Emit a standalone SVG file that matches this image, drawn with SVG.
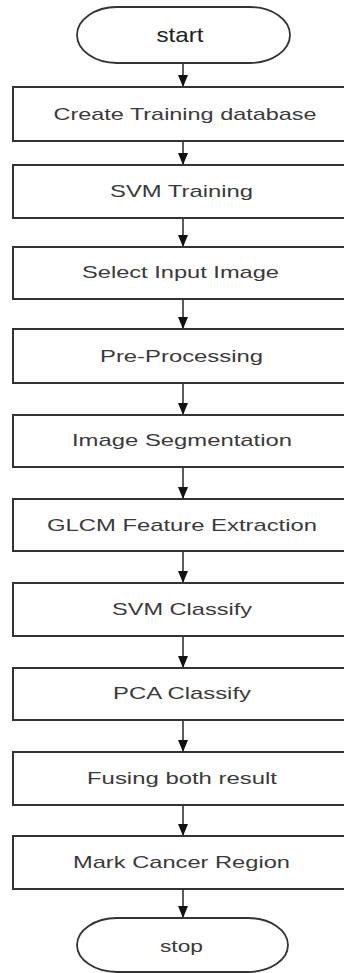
<svg xmlns="http://www.w3.org/2000/svg" width="344" height="973" viewBox="0 0 344 973">
<defs>
<marker id="ah" viewBox="0 0 12 10" refX="12" refY="5" markerWidth="12" markerHeight="10" markerUnits="userSpaceOnUse" orient="auto">
<path d="M0,0 L12,5 L0,10 Z" fill="#111"/>
</marker>
<style>
.box{fill:#fff;stroke:#333;stroke-width:2}
.term{fill:#fff;stroke:#333;stroke-width:1.8}
.lbl{font-family:"Liberation Sans",Arial,sans-serif;font-size:17px;fill:#3a3a3a;text-anchor:middle}
.tl{font-family:"Liberation Sans",Arial,sans-serif;font-size:21px;fill:#222;text-anchor:middle}
.con{stroke:#333;stroke-width:1.6;fill:none;marker-end:url(#ah)}
</style>
</defs>
<rect width="344" height="973" fill="#fff"/>
<g id="connectors">
<line class="con" x1="183" y1="63" x2="183" y2="87"/>
<line class="con" x1="183" y1="141" x2="183" y2="165"/>
<line class="con" x1="183" y1="218" x2="183" y2="247"/>
<line class="con" x1="183" y1="299" x2="183" y2="329"/>
<line class="con" x1="183" y1="383" x2="183" y2="415"/>
<line class="con" x1="183" y1="467" x2="183" y2="499"/>
<line class="con" x1="183" y1="551" x2="183" y2="583"/>
<line class="con" x1="183" y1="636" x2="183" y2="668"/>
<line class="con" x1="183" y1="720" x2="183" y2="752"/>
<line class="con" x1="183" y1="805" x2="183" y2="836"/>
<line class="con" x1="183" y1="889" x2="183" y2="918"/>
</g>
<g id="start">
<rect class="term" x="77" y="7" width="213" height="56" rx="40" ry="28"/>
<text class="tl" x="180" y="42" textLength="47" lengthAdjust="spacingAndGlyphs">start</text>
</g>
<g id="n1">
<rect class="box" x="13" y="87" width="345" height="54"/>
<text class="lbl" x="185" y="120" textLength="263" lengthAdjust="spacingAndGlyphs">Create Training database</text>
</g>
<g id="n2">
<rect class="box" x="13" y="165" width="345" height="53"/>
<text class="lbl" x="181.5" y="197" textLength="143" lengthAdjust="spacingAndGlyphs">SVM Training</text>
</g>
<g id="n3">
<rect class="box" x="13" y="247" width="345" height="52"/>
<text class="lbl" x="180.5" y="278" textLength="197" lengthAdjust="spacingAndGlyphs">Select Input Image</text>
</g>
<g id="n4">
<rect class="box" x="13" y="329" width="345" height="54"/>
<text class="lbl" x="181.5" y="361.5" textLength="163" lengthAdjust="spacingAndGlyphs">Pre-Processing</text>
</g>
<g id="n5">
<rect class="box" x="13" y="415" width="345" height="52"/>
<text class="lbl" x="182" y="446" textLength="220" lengthAdjust="spacingAndGlyphs">Image Segmentation</text>
</g>
<g id="n6">
<rect class="box" x="13" y="499" width="345" height="52"/>
<text class="lbl" x="182" y="531" textLength="270" lengthAdjust="spacingAndGlyphs">GLCM Feature Extraction</text>
</g>
<g id="n7">
<rect class="box" x="13" y="583" width="345" height="53"/>
<text class="lbl" x="182" y="615" textLength="140" lengthAdjust="spacingAndGlyphs">SVM Classify</text>
</g>
<g id="n8">
<rect class="box" x="13" y="668" width="345" height="52"/>
<text class="lbl" x="182" y="699" textLength="138" lengthAdjust="spacingAndGlyphs">PCA Classify</text>
</g>
<g id="n9">
<rect class="box" x="13" y="752" width="345" height="53"/>
<text class="lbl" x="182" y="784" textLength="190" lengthAdjust="spacingAndGlyphs">Fusing both result</text>
</g>
<g id="n10">
<rect class="box" x="13" y="836" width="345" height="53"/>
<text class="lbl" x="181.5" y="868" textLength="217" lengthAdjust="spacingAndGlyphs">Mark Cancer Region</text>
</g>
<g id="stop">
<rect class="term" x="77" y="918" width="211" height="54" rx="40" ry="27"/>
<text class="lbl" x="181.5" y="952" textLength="43" lengthAdjust="spacingAndGlyphs">stop</text>
</g>
</svg>
